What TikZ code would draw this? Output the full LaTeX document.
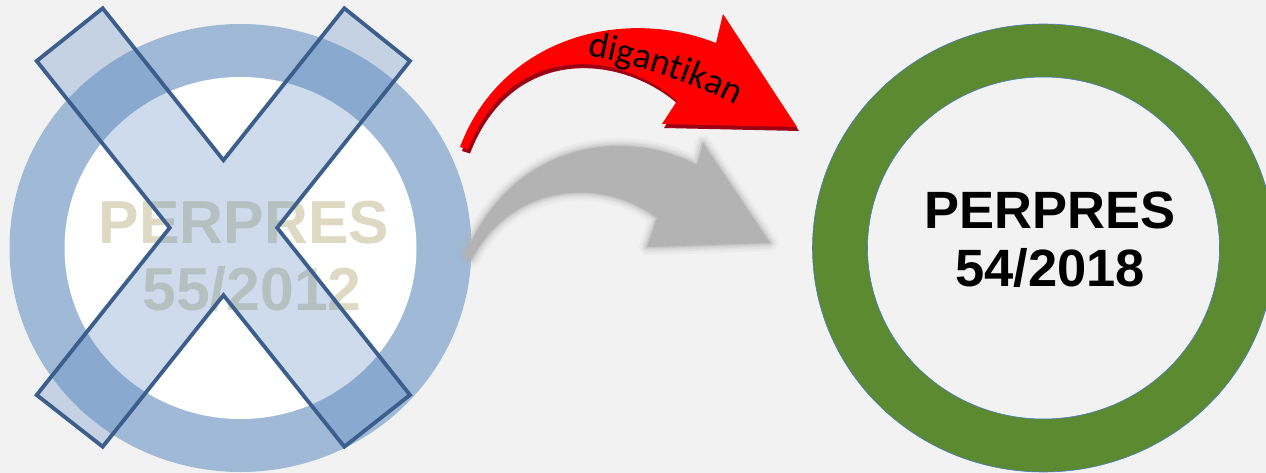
\documentclass[tikz,border=0pt]{standalone}
\usepackage{fontspec}
\setmainfont{Liberation Sans}
\newfontfamily\carlitofont{Carlito}
\usetikzlibrary{decorations.text}
\definecolor{bgc}{HTML}{F2F2F2}
\definecolor{ringblue}{HTML}{A0B9D7}
\definecolor{xfill}{HTML}{4F81BD}
\definecolor{xline}{HTML}{3B5E8C}
\definecolor{ringgreen}{HTML}{5B8A31}
\definecolor{ringedge}{HTML}{4A7EBB}
\definecolor{oldtext}{HTML}{DDD9C3}
\definecolor{arrowred}{HTML}{FF0000}
\definecolor{arrowdark}{HTML}{9C0014}
\definecolor{shadowgray}{HTML}{B3B3B3}
\tikzset{
  xshape/.style={fill=xfill, fill opacity=0.28, draw=xline, draw opacity=1, line width=3.8pt, line join=miter},
  oldlabel/.style={text=oldtext, font=\bfseries\fontsize{60.7}{67}\selectfont, align=center, inner sep=0pt},
  newlabel/.style={text=black, font=\bfseries\fontsize{52.5}{57.4}\selectfont, align=center, inner sep=0pt},
  ringline/.style={draw=ringedge, line width=0.6pt},
}
\def\RedArrowPath{(460,147) .. controls (500,40) and (620,5) .. (716,43) -- (723,14) -- (797,127) -- (662,124) -- (677,101) .. controls (620,50) and (510,40) .. (468,149.5) -- cycle}
\def\ShadowPath{(465,256) .. controls (510,145) and (620,125) .. (697,165) -- (703,143) -- (770,243) -- (647,247) -- (657,218) .. controls (600,175) and (510,185) .. (472,259) -- cycle}
\begin{document}
\begin{tikzpicture}[x=1pt,y=-1pt]
\fill[bgc] (0,0) rectangle (1266,473);
\useasboundingbox (0,0) rectangle (1266,473);

% left ring (replaced regulation)
\coordinate (lc) at (240.5,248);
\fill[ringblue] (lc) ellipse [x radius=231pt, y radius=224pt];
\fill[white] (lc) ellipse [x radius=176pt, y radius=171pt];
\node[oldlabel] (old) at (244,256) {PERPRES\\\hspace*{16pt}55/2012};

% X mark
\coordinate (a1) at (36.7,61);
\coordinate (a2) at (102.7,8.3);
\coordinate (a3) at (410,395);
\coordinate (a4) at (344.3,446.7);
\coordinate (b1) at (344.3,8.3);
\coordinate (b2) at (410,61);
\coordinate (b3) at (102.7,446.7);
\coordinate (b4) at (36.7,395);
\draw[xshape] (a2) -- (intersection of a2--a3 and b1--b4) -- (b1) -- (b2)
  -- (intersection of b2--b3 and a2--a3) -- (a3) -- (a4)
  -- (intersection of a1--a4 and b2--b3) -- (b3) -- (b4)
  -- (intersection of b1--b4 and a1--a4) -- (a1) -- cycle;

% shadow arrow (blurred)
\foreach \w/\o in {16/0.10, 11/0.15, 7/0.25, 3/0.45}{
  \draw[shadowgray, line width=\w pt, opacity=\o, line join=round] \ShadowPath;
}
\fill[shadowgray] \ShadowPath;

% red arrow
\fill[arrowdark, shift={(2,4)}] \RedArrowPath;
\fill[arrowred] \RedArrowPath;
\path[decorate, decoration={text along path, text align=left,
  text={|\carlitofont\fontsize{37}{37}\selectfont|digantikan}}]
  (587,56) .. controls (640,66) and (700,84) .. (752,114);

% right ring (new regulation)
\coordinate (rc) at (1043.5,248);
\fill[ringgreen, even odd rule] (rc) ellipse [x radius=231pt, y radius=224pt]
  (rc) ellipse [x radius=176pt, y radius=171pt];
\draw[ringline] (rc) ellipse [x radius=231pt, y radius=224pt];
\draw[ringline] (rc) ellipse [x radius=176pt, y radius=171pt];
\node[newlabel] (new) at (1050,239.6) {PERPRES\\54/2018};
\end{tikzpicture}
\end{document}
